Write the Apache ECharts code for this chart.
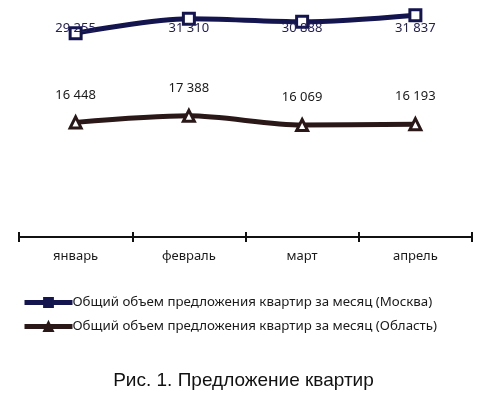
<!DOCTYPE html>
<html>
<head>
<meta charset="utf-8">
<script src="https://cdn.jsdelivr.net/npm/echarts@6/dist/echarts.min.js"></script>
<style>
    html, body { margin: 0; padding: 0; background: #fff; }
    #chart { width: 487px; height: 399px; }
</style>
</head>
<body>
<div id="chart"></div>
<script>
    let months = ['январь', 'февраль', 'март', 'апрель']
    let moscowValues = [29255, 31310, 30888, 31837]
    let regionValues = [16448, 17388, 16069, 16193]
    let moscowName = 'Общий объем предложения квартир за месяц (Москва)'
    let regionName = 'Общий объем предложения квартир за месяц (Область)'

    let moscowColor = '#14144f'
    let regionColor = '#2a1717'
    let textFont = 'Noto Sans'
    // подписи Москвы стоят на одной высоте
    let moscowLabelY = 28

    let fmt = function (v) {
        return String(v).replace(/\B(?=(\d{3})+(?!\d))/g, ' ')
    }

    let chart = echarts.init(document.getElementById('chart'))

    function buildOption(moscowOffsets) {
        return {
            animation: false,
            title: {
                text: 'Рис. 1. Предложение квартир',
                left: 'center',
                top: 366,
                textStyle: {
                    fontFamily: 'Liberation Sans',
                    fontSize: 19,
                    fontWeight: 'normal',
                    color: '#111'
                }
            },
            legend: {
                orient: 'vertical',
                left: 17,
                top: 291,
                itemWidth: 48,
                itemHeight: 11,
                itemGap: 11,
                textStyle: {
                    fontFamily: textFont,
                    fontSize: 13.3,
                    color: '#1a1a1a',
                    padding: [0, 0, 0, -5]
                },
                data: [
                    {
                        name: moscowName,
                        itemStyle: { color: moscowColor, borderColor: moscowColor },
                        lineStyle: { color: moscowColor, width: 5 }
                    },
                    {
                        name: regionName,
                        itemStyle: { color: regionColor, borderColor: regionColor },
                        lineStyle: { color: regionColor, width: 5 }
                    }
                ]
            },
            grid: {
                left: 19,
                right: 15,
                top: 14,
                bottom: 162
            },
            xAxis: [
                {
                    type: 'category',
                    data: months,
                    boundaryGap: true,
                    axisLine: { lineStyle: { color: '#111', width: 2 } },
                    axisTick: { show: true, length: 5, lineStyle: { color: '#111', width: 2 } },
                    axisLabel: {
                        margin: 13,
                        fontFamily: textFont,
                        fontSize: 13,
                        color: '#1a1a1a'
                    }
                },
                {
                    type: 'category',
                    data: months,
                    position: 'bottom',
                    boundaryGap: true,
                    axisLine: { show: false },
                    axisTick: { show: true, inside: true, length: 5, lineStyle: { color: '#111', width: 2 } },
                    axisLabel: { show: false }
                }
            ],
            yAxis: {
                type: 'value',
                min: 0,
                max: 32000,
                show: false,
                splitLine: { show: false }
            },
            series: [
                {
                    name: moscowName,
                    type: 'line',
                    smooth: 0.3,
                    data: moscowValues.map((v, i) => ({
                        value: v,
                        label: { offset: [0, moscowOffsets[i] || 0] }
                    })),
                    symbol: 'rect',
                    symbolSize: 11,
                    lineStyle: { color: moscowColor, width: 5 },
                    itemStyle: { color: '#fff', borderColor: moscowColor, borderWidth: 3 },
                    label: {
                        show: true,
                        position: 'inside',
                        fontFamily: textFont,
                        fontSize: 13,
                        color: '#24205a',
                        formatter: p => fmt(p.value)
                    },
                    z: 3
                },
                {
                    name: regionName,
                    type: 'line',
                    smooth: 0.3,
                    data: regionValues,
                    symbol: 'triangle',
                    symbolSize: 11,
                    lineStyle: { color: regionColor, width: 5 },
                    itemStyle: { color: '#fff', borderColor: regionColor, borderWidth: 3 },
                    label: {
                        show: true,
                        position: 'top',
                        distance: 14,
                        fontFamily: textFont,
                        fontSize: 13,
                        color: '#1a1a1a',
                        formatter: p => fmt(p.value)
                    },
                    z: 3
                }
            ]
        }
    }

    chart.setOption(buildOption([]))
    let offsets = moscowValues.map((v, i) => {
        let pt = chart.convertToPixel({ gridIndex: 0 }, [i, v])
        return moscowLabelY - pt[1]
    })
    chart.setOption(buildOption(offsets))
</script>
</body>
</html>
